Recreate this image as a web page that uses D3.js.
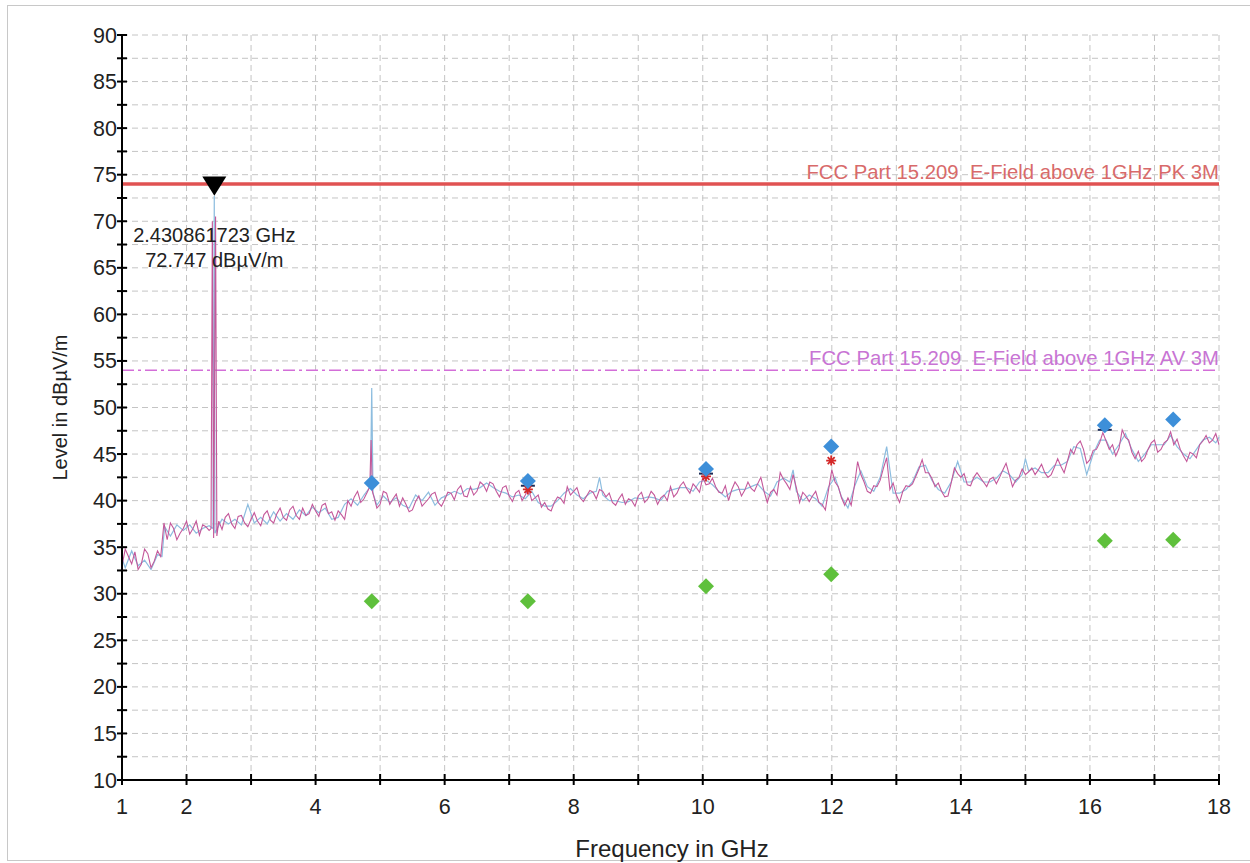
<!DOCTYPE html>
<html>
<head>
<meta charset="utf-8">
<script src="https://cdn.jsdelivr.net/npm/d3@7"></script>
<style>
    body { margin: 0; background: #fff; }
    svg { display: block; font-family: "Liberation Sans", Arial, sans-serif; }
    text { white-space: pre; }
    .grid line { stroke: #c4c4c4; stroke-width: 1; stroke-dasharray: 6,4; }
</style>
</head>
<body>
<svg width="1250" height="863"></svg>
<script>
// Data
const yTicks = [10, 15, 20, 25, 30, 35, 40, 45, 50, 55, 60, 65, 70, 75, 80, 85, 90];
const xTickLabels = [1, 2, 4, 6, 8, 10, 12, 14, 16, 18];

const pkLimit = 74;
const avLimit = 54;
const pkLabel = "FCC Part 15.209  E-Field above 1GHz PK 3M";
const avLabel = "FCC Part 15.209  E-Field above 1GHz AV 3M";

const markerFreq = 2.430861723;
const markerLevel = 72.747;

// final measurement points
const peakFreq = [4.87, 7.29, 10.05, 11.99, 16.23, 17.29];
const peakLevel = [41.9, 42.1, 43.4, 45.8, 48.1, 48.7];
const avgLevel = [29.2, 29.2, 30.8, 32.1, 35.7, 35.8];
const qpFreq = [7.29, 10.05, 11.99];
const qpLevel = [41.2, 42.6, 44.3];
const darkFreq = [7.29, 10.05, 16.23];
const darkLevel = [41.6, 42.9, 47.6];

// magenta trace [GHz, dBuV/m]
const traceMagenta = [
    [1.0, 33.0], [1.1, 34.0], [1.2, 34.5], [1.3, 33.2], [1.4, 34.3], [1.5, 33.5], [1.6, 34.0], [1.65, 37.6],
    [1.7, 35.8], [1.8, 37.0], [1.9, 36.5], [2.0, 37.8], [2.1, 37.0], [2.2, 36.3], [2.3, 37.2], [2.35, 36.8],
    [2.38, 37.0], [2.40, 70.0], [2.42, 36.0], [2.45, 70.5], [2.47, 36.2], [2.5, 37.8], [2.6, 38.2], [2.7, 37.5],
    [2.8, 38.3], [2.9, 37.6], [3.0, 38.0], [3.1, 37.8], [3.2, 38.5], [3.3, 37.9], [3.4, 38.6], [3.5, 38.2],
    [3.6, 39.0], [3.7, 38.4], [3.8, 39.2], [3.9, 38.6], [4.0, 38.9], [4.1, 39.5], [4.2, 38.6], [4.3, 37.9],
    [4.4, 38.5], [4.5, 40.0], [4.6, 40.4], [4.7, 39.8], [4.8, 40.9], [4.84, 41.5], [4.86, 46.5], [4.88, 41.0],
    [4.9, 40.5], [5.0, 39.6], [5.1, 40.8], [5.2, 40.2], [5.3, 39.4], [5.4, 39.6], [5.5, 39.0], [5.6, 40.5],
    [5.7, 39.8], [5.8, 40.7], [5.9, 39.8], [6.0, 40.1], [6.1, 40.8], [6.2, 41.2], [6.3, 40.5], [6.4, 41.5],
    [6.5, 41.0], [6.6, 41.7], [6.7, 42.0], [6.8, 41.0], [6.9, 41.4], [7.0, 40.5], [7.1, 40.8], [7.2, 40.0],
    [7.3, 41.3], [7.4, 40.3], [7.5, 39.3], [7.6, 39.1], [7.7, 39.8], [7.8, 40.2], [7.9, 41.5], [8.0, 41.0],
    [8.1, 40.3], [8.2, 40.5], [8.3, 40.9], [8.4, 41.2], [8.5, 40.4], [8.6, 39.8], [8.7, 40.2], [8.8, 39.6],
    [8.9, 40.0], [9.0, 40.5], [9.1, 39.8], [9.2, 41.0], [9.3, 39.6], [9.4, 40.6], [9.5, 41.5], [9.6, 40.8],
    [9.7, 42.0], [9.8, 40.8], [9.9, 41.4], [10.0, 42.5], [10.1, 41.8], [10.2, 41.5], [10.3, 40.8], [10.4, 40.0],
    [10.5, 42.0], [10.6, 40.5], [10.7, 42.0], [10.8, 41.0], [10.9, 42.5], [11.0, 39.8], [11.1, 41.2], [11.2, 43.0],
    [11.3, 41.8], [11.4, 42.8], [11.5, 39.8], [11.6, 40.5], [11.7, 40.5], [11.8, 39.8], [11.9, 39.0], [12.0, 43.3],
    [12.1, 41.5], [12.2, 39.5], [12.3, 39.5], [12.4, 44.2], [12.5, 42.0], [12.6, 40.8], [12.7, 41.5], [12.8, 43.5],
    [12.85, 44.6], [12.9, 41.2], [13.0, 40.6], [13.1, 41.0], [13.2, 41.5], [13.3, 42.6], [13.4, 44.4], [13.5, 43.0],
    [13.6, 41.5], [13.7, 41.0], [13.8, 40.5], [13.9, 43.5], [14.0, 42.5], [14.1, 41.7], [14.2, 42.5], [14.3, 42.5],
    [14.4, 41.5], [14.5, 42.5], [14.6, 42.5], [14.7, 44.0], [14.8, 41.5], [14.9, 42.5], [15.0, 42.8], [15.1, 43.5],
    [15.2, 43.3], [15.3, 43.0], [15.4, 42.8], [15.5, 44.5], [15.6, 43.0], [15.7, 45.5], [15.8, 46.0], [15.9, 45.5],
    [16.0, 44.4], [16.1, 45.5], [16.2, 47.3], [16.3, 45.5], [16.4, 44.8], [16.5, 47.6], [16.6, 46.5], [16.7, 44.5],
    [16.8, 44.2], [16.9, 45.5], [17.0, 46.5], [17.1, 45.5], [17.2, 46.5], [17.25, 47.4], [17.3, 46.0], [17.4, 45.5],
    [17.5, 44.2], [17.6, 45.0], [17.7, 46.0], [17.8, 47.0], [17.9, 46.5], [18.0, 46.0]
];

// extra magenta sweep points between the ones above (the noise floor)
const magentaMid = [
    [1.05, 34.8], [1.15, 33.2], [1.25, 32.6], [1.35, 34.8], [1.45, 32.8], [1.55, 34.6], [1.75, 37.6], [1.85, 35.8],
    [1.95, 37.0], [2.05, 36.4], [2.15, 37.8], [2.25, 37.4], [2.55, 36.9], [2.65, 38.6], [2.75, 37.0], [2.85, 38.4],
    [2.95, 37.2], [3.05, 38.7], [3.15, 37.3], [3.25, 38.9], [3.35, 37.6], [3.45, 39.2], [3.55, 37.9], [3.65, 39.4],
    [3.75, 38.0], [3.85, 38.4], [3.95, 39.6], [4.05, 38.3], [4.15, 39.7], [4.25, 38.8], [4.35, 38.9], [4.45, 38.0],
    [4.55, 39.4], [4.65, 41.0], [4.75, 40.2], [4.95, 39.2], [5.05, 41.0], [5.15, 39.6], [5.25, 40.7], [5.35, 40.3],
    [5.45, 38.8], [5.55, 39.9], [5.65, 39.4], [5.75, 40.2], [5.85, 40.9], [5.95, 39.4], [6.05, 40.9], [6.15, 40.1],
    [6.25, 41.6], [6.35, 40.4], [6.45, 40.6], [6.55, 42.0], [6.65, 41.0], [6.75, 41.8], [6.85, 40.4], [6.95, 41.6],
    [7.05, 39.9], [7.15, 41.1], [7.25, 40.6], [7.35, 40.0], [7.45, 40.6], [7.55, 39.8], [7.65, 38.9], [7.75, 40.4],
    [7.85, 39.7], [7.95, 40.6], [8.05, 41.4], [8.15, 39.9], [8.25, 41.1], [8.35, 40.2], [8.45, 41.0], [8.55, 40.8],
    [8.65, 39.5], [8.75, 40.7], [8.85, 40.2], [8.95, 39.4], [9.05, 40.9], [9.15, 40.2], [9.25, 40.6], [9.35, 40.3],
    [9.45, 40.0], [9.55, 40.4], [9.65, 41.6], [9.75, 41.3], [9.85, 41.8], [9.95, 40.9], [10.05, 41.7], [10.15, 42.4],
    [10.25, 40.9], [10.35, 41.6], [10.45, 41.2], [10.55, 41.5], [10.65, 41.1], [10.75, 41.3], [10.85, 41.8], [10.95, 41.0],
    [11.05, 40.9], [11.15, 40.6], [11.25, 42.3], [11.35, 41.2], [11.45, 41.4], [11.55, 40.9], [11.65, 39.9], [11.75, 41.0],
    [11.85, 39.6], [11.95, 41.2], [12.05, 42.0], [12.15, 40.3], [12.25, 40.3], [12.35, 41.6], [12.45, 42.8], [12.55, 41.0],
    [12.65, 41.6], [12.75, 42.2], [12.95, 41.9], [13.05, 39.8], [13.15, 41.6], [13.25, 41.8], [13.35, 43.4], [13.45, 43.0],
    [13.55, 42.4], [13.65, 41.9], [13.75, 40.4], [13.85, 41.9], [13.95, 42.9], [14.05, 42.9], [14.15, 41.6], [14.25, 43.0],
    [14.35, 42.0], [14.45, 42.3], [14.55, 41.8], [14.65, 43.3], [14.75, 42.8], [14.85, 42.2], [14.95, 43.4], [15.05, 43.1],
    [15.15, 42.8], [15.25, 43.9], [15.35, 42.5], [15.45, 43.6], [15.55, 43.7], [15.65, 44.2], [15.75, 45.0], [15.85, 46.4],
    [15.95, 44.0], [16.05, 45.4], [16.15, 46.2], [16.25, 46.4], [16.35, 46.0], [16.45, 45.6], [16.55, 46.8], [16.65, 45.2],
    [16.75, 45.3], [16.85, 44.6], [16.95, 46.2], [17.05, 45.2], [17.15, 46.2], [17.35, 46.6], [17.45, 44.8], [17.55, 45.2],
    [17.65, 44.6], [17.75, 46.4], [17.85, 46.2], [17.95, 47.2]
];

// light blue trace [GHz, dBuV/m]
const traceBlue = [
    [1.0, 33.8], [1.05, 32.8], [1.15, 34.6], [1.25, 33.0], [1.35, 33.6], [1.45, 32.6], [1.55, 34.2], [1.62, 34.0],
    [1.66, 37.2], [1.75, 36.2], [1.85, 37.4], [1.95, 36.8], [2.05, 37.4], [2.15, 36.5], [2.25, 37.0], [2.35, 37.3],
    [2.41, 37.0], [2.43, 72.7], [2.44, 36.5], [2.55, 38.0], [2.65, 37.5], [2.75, 38.0], [2.85, 37.4], [2.95, 39.6],
    [3.05, 37.6], [3.15, 38.2], [3.25, 37.5], [3.35, 38.8], [3.45, 37.8], [3.55, 38.6], [3.65, 38.0], [3.75, 39.0],
    [3.85, 38.4], [3.95, 39.3], [4.05, 38.7], [4.15, 39.2], [4.25, 38.0], [4.35, 38.2], [4.45, 39.6], [4.55, 40.2],
    [4.65, 39.5], [4.75, 40.6], [4.85, 41.5], [4.87, 52.1], [4.89, 40.8], [4.95, 39.5], [5.05, 40.5], [5.15, 39.8],
    [5.25, 40.3], [5.35, 39.5], [5.45, 39.2], [5.55, 40.6], [5.65, 40.0], [5.75, 40.9], [5.85, 39.5], [5.95, 40.3],
    [6.05, 40.6], [6.15, 41.0], [6.25, 40.7], [6.35, 41.3], [6.45, 41.2], [6.55, 41.4], [6.65, 41.9], [6.75, 41.4],
    [6.85, 41.0], [6.95, 40.8], [7.05, 40.4], [7.15, 40.6], [7.25, 40.2], [7.35, 41.0], [7.45, 39.8], [7.55, 39.4],
    [7.65, 39.4], [7.75, 40.0], [7.85, 40.8], [7.95, 41.3], [8.05, 40.6], [8.15, 40.2], [8.25, 40.8], [8.35, 41.0],
    [8.4, 42.5], [8.45, 40.6], [8.55, 40.0], [8.65, 40.0], [8.75, 39.8], [8.85, 39.9], [8.95, 40.3], [9.05, 40.2],
    [9.15, 40.4], [9.25, 40.3], [9.35, 40.0], [9.45, 41.0], [9.55, 41.2], [9.65, 41.4], [9.75, 41.4], [9.85, 41.0],
    [9.95, 42.0], [10.05, 42.2], [10.15, 41.7], [10.25, 41.0], [10.35, 40.4], [10.45, 41.0], [10.55, 41.2], [10.65, 41.2],
    [10.75, 41.5], [10.85, 41.8], [10.95, 41.0], [11.05, 40.5], [11.15, 42.0], [11.25, 42.4], [11.35, 42.0], [11.4, 43.3],
    [11.45, 41.0], [11.55, 40.0], [11.65, 40.6], [11.75, 40.2], [11.85, 39.4], [11.95, 41.5], [12.05, 42.5], [12.15, 40.4],
    [12.25, 39.2], [12.35, 41.5], [12.45, 43.2], [12.55, 41.5], [12.65, 41.0], [12.75, 42.5], [12.85, 45.8], [12.95, 40.8],
    [13.05, 40.8], [13.15, 41.2], [13.25, 42.0], [13.35, 43.6], [13.45, 43.8], [13.55, 42.2], [13.65, 41.2], [13.75, 40.8],
    [13.85, 42.0], [13.95, 44.2], [14.05, 42.0], [14.15, 42.0], [14.25, 42.5], [14.35, 42.0], [14.45, 42.0], [14.55, 42.4],
    [14.65, 43.2], [14.75, 42.8], [14.85, 42.0], [14.95, 42.8], [15.0, 44.5], [15.05, 43.2], [15.15, 43.5], [15.25, 43.0],
    [15.35, 43.0], [15.45, 43.8], [15.55, 43.8], [15.65, 44.2], [15.75, 45.8], [15.85, 45.6], [15.95, 42.8], [16.05, 45.0],
    [16.15, 46.5], [16.25, 46.5], [16.35, 45.0], [16.45, 46.0], [16.55, 47.2], [16.65, 45.5], [16.75, 44.2], [16.85, 45.0],
    [16.95, 46.0], [17.05, 46.0], [17.15, 46.0], [17.25, 47.0], [17.35, 45.8], [17.45, 45.0], [17.55, 44.5], [17.65, 45.5],
    [17.75, 46.5], [17.85, 46.8], [17.95, 46.2], [18.0, 46.8]
];

// Layout
const plotLeft = 122, plotRight = 1219, plotTop = 35, plotBottom = 780;
const font = 20;

const svg = d3.select("svg");

// outer frame
svg.append("rect")
    .attr("x", 7.5).attr("y", 5.5)
    .attr("width", 1260).attr("height", 855)
    .attr("fill", "none")
    .attr("stroke", "#c8c8c8");

const x = d3.scaleLinear().domain([1, 18]).range([plotLeft, plotRight]);
const y = d3.scaleLinear().domain([10, 90]).range([plotBottom, plotTop]);

// Grid
const grid = svg.append("g").attr("class", "grid");
grid.selectAll("line.h")
    .data(d3.range(12.5, 90.1, 2.5))
    .join("line")
    .attr("class", "h")
    .attr("x1", plotLeft).attr("x2", plotRight)
    .attr("y1", d => y(d)).attr("y2", d => y(d));
grid.selectAll("line.v")
    .data(d3.range(2, 18.1, 1))
    .join("line")
    .attr("class", "v")
    .attr("y1", plotTop).attr("y2", plotBottom)
    .attr("x1", d => x(d)).attr("x2", d => x(d));

// Limit lines
svg.append("line")
    .attr("x1", plotLeft).attr("x2", plotRight)
    .attr("y1", y(pkLimit)).attr("y2", y(pkLimit))
    .attr("stroke", "#e05252").attr("stroke-width", 3.5);
svg.append("line")
    .attr("x1", plotLeft).attr("x2", plotRight)
    .attr("y1", y(avLimit)).attr("y2", y(avLimit))
    .attr("stroke", "#d36ed8").attr("stroke-width", 1.5)
    .attr("stroke-dasharray", "12,4,3,4");

svg.append("text")
    .attr("x", plotRight).attr("y", y(pkLimit) - 5)
    .attr("text-anchor", "end")
    .attr("font-size", 20.3)
    .attr("fill", "#d86a6a")
    .text(pkLabel);
svg.append("text")
    .attr("x", plotRight).attr("y", y(avLimit) - 5)
    .attr("text-anchor", "end")
    .attr("font-size", 20.3)
    .attr("fill", "#c874d4")
    .text(avLabel);

// Traces
const line = d3.line().x(d => x(d[0])).y(d => y(d[1]));
const magentaAll = traceMagenta.concat(magentaMid).sort((a, b) => a[0] - b[0]);

svg.append("path")
    .datum(traceBlue)
    .attr("d", line)
    .attr("fill", "none")
    .attr("stroke", "#8dbddf")
    .attr("stroke-width", 1.2);
svg.append("path")
    .datum(magentaAll)
    .attr("d", line)
    .attr("fill", "none")
    .attr("stroke", "#c4589a")
    .attr("stroke-width", 1.1);

// Final measurement markers
const diamond = s => `M0,${-s}L${s},0L0,${s}L${-s},0Z`;

svg.selectAll("path.dark")
    .data(darkFreq.map((f, i) => [f, darkLevel[i]]))
    .join("path")
    .attr("class", "dark")
    .attr("transform", d => `translate(${x(d[0])},${y(d[1])})`)
    .attr("d", "M-7,0H7")
    .attr("stroke", "#1d2b55").attr("stroke-width", 2);

svg.selectAll("path.qp")
    .data(qpFreq.map((f, i) => [f, qpLevel[i]]))
    .join("path")
    .attr("class", "qp")
    .attr("transform", d => `translate(${x(d[0])},${y(d[1])})`)
    .attr("d", "M-5,0H5M0,-5V5M-3.5,-3.5L3.5,3.5M-3.5,3.5L3.5,-3.5")
    .attr("stroke", "#d42828").attr("stroke-width", 1.8);

svg.selectAll("path.peak")
    .data(peakFreq.map((f, i) => [f, peakLevel[i]]))
    .join("path")
    .attr("class", "peak")
    .attr("transform", d => `translate(${x(d[0])},${y(d[1])})`)
    .attr("d", diamond(8))
    .attr("fill", "#3d8fd9");

svg.selectAll("path.avg")
    .data(peakFreq.map((f, i) => [f, avgLevel[i]]))
    .join("path")
    .attr("class", "avg")
    .attr("transform", d => `translate(${x(d[0])},${y(d[1])})`)
    .attr("d", diamond(8))
    .attr("fill", "#5fc03c");

// Axes
const axisG = svg.append("g");
axisG.append("line")
    .attr("x1", plotLeft).attr("x2", plotLeft).attr("y1", plotTop).attr("y2", plotBottom)
    .attr("stroke", "#000").attr("stroke-width", 2);
axisG.append("line")
    .attr("x1", plotLeft).attr("x2", plotRight).attr("y1", plotBottom).attr("y2", plotBottom)
    .attr("stroke", "#000").attr("stroke-width", 2);

axisG.selectAll("line.yt")
    .data(d3.range(10, 90.1, 2.5))
    .join("line")
    .attr("class", "yt")
    .attr("x1", plotLeft - 5).attr("x2", plotLeft + 5)
    .attr("y1", d => y(d)).attr("y2", d => y(d))
    .attr("stroke", "#000").attr("stroke-width", 2);
axisG.selectAll("line.xt")
    .data(d3.range(1, 18.1, 1))
    .join("line")
    .attr("class", "xt")
    .attr("x1", d => x(d)).attr("x2", d => x(d))
    .attr("y1", plotBottom - 6).attr("y2", plotBottom + 5)
    .attr("stroke", "#000").attr("stroke-width", 2);

axisG.selectAll("text.yl")
    .data(yTicks)
    .join("text")
    .attr("class", "yl")
    .attr("x", plotLeft - 5)
    .attr("y", d => y(d) + 7.5)
    .attr("text-anchor", "end")
    .attr("font-size", 21.5)
    .attr("fill", "#222")
    .text(d => d);
axisG.selectAll("text.xl")
    .data(xTickLabels)
    .join("text")
    .attr("class", "xl")
    .attr("x", d => x(d))
    .attr("y", 814)
    .attr("text-anchor", "middle")
    .attr("font-size", 21.5)
    .attr("fill", "#222")
    .text(d => d);

svg.append("text")
    .attr("transform", `translate(67,${(plotTop + plotBottom) / 2}) rotate(-90)`)
    .attr("text-anchor", "middle")
    .attr("font-size", font)
    .attr("fill", "#222")
    .text("Level in dB\u00b5V/m");
svg.append("text")
    .attr("x", 672).attr("y", 857)
    .attr("text-anchor", "middle")
    .attr("font-size", 24)
    .attr("fill", "#222")
    .text("Frequency in GHz");

// Marker at the carrier peak
const mx = x(markerFreq);
svg.append("path")
    .attr("d", `M${mx - 12},${y(74.8)}L${mx + 12},${y(74.8)}L${mx},${y(markerLevel)}Z`)
    .attr("fill", "#000");
svg.append("text")
    .attr("x", mx).attr("y", 242)
    .attr("text-anchor", "middle")
    .attr("font-size", font)
    .attr("fill", "#222")
    .text(`${markerFreq} GHz`);
svg.append("text")
    .attr("x", mx).attr("y", 267)
    .attr("text-anchor", "middle")
    .attr("font-size", font)
    .attr("fill", "#222")
    .text(`${markerLevel} dB\u00b5V/m`);
</script>
</body>
</html>
